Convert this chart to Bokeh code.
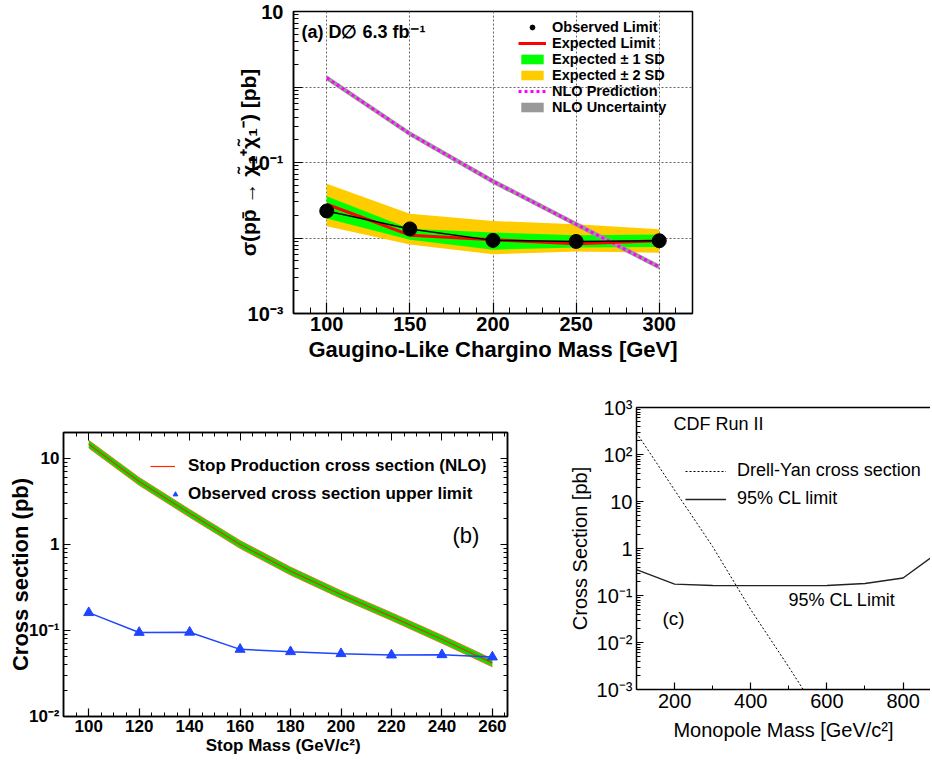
from bokeh.plotting import figure
from bokeh.models import (FixedTicker, LinearAxis, LogAxis,
                          Legend, LegendItem, Label, Range1d, Spacer,
                          CustomJSTickFormatter)
from bokeh.layouts import row, column
from bokeh.embed import file_html
from bokeh.resources import INLINE

FONT = "Liberation Sans"

# ---------------- Panel (a) data ----------------
mass_a = [100, 150, 200, 250, 300]
obs_a = [0.0228, 0.0132, 0.0093, 0.0090, 0.0092]
exp_a = [0.0280, 0.0109, 0.0095, 0.0084, 0.0092]
sd1_hi_a = [0.0356, 0.0133, 0.0118, 0.0109, 0.0111]
sd1_lo_a = [0.0181, 0.0095, 0.0070, 0.0075, 0.0076]
sd2_hi_a = [0.0525, 0.0210, 0.0168, 0.0152, 0.0131]
sd2_lo_a = [0.0143, 0.0082, 0.0061, 0.0066, 0.0064]
nlo_a = [1.32, 0.240, 0.0563, 0.0152, 0.00414]
nlo_hi_a = [1.43, 0.259, 0.0608, 0.0164, 0.00447]
nlo_lo_a = [1.22, 0.222, 0.0521, 0.0141, 0.00383]
xticks_a = [100, 150, 200, 250, 300]
yticks_a = [0.001, 0.01, 0.1, 1, 10]
ylabels_a = ["10⁻³", "", "10⁻¹", "", "10"]

# ---------------- Panel (b) data ----------------
mass_b = [100, 120, 140, 160, 180, 200, 220, 240, 260]
nlo_b = [14.6, 5.4, 2.3, 1.0, 0.49, 0.262, 0.145, 0.079, 0.042]
nlo_hi_b = [16.2, 6.0, 2.55, 1.11, 0.545, 0.29, 0.161, 0.088, 0.0466]
nlo_lo_b = [13.2, 4.87, 2.07, 0.90, 0.441, 0.236, 0.131, 0.071, 0.0378]
obs_b = [0.161, 0.0948, 0.0953, 0.0603, 0.0566, 0.0537, 0.0518, 0.0522, 0.0491]
xticks_b = [100, 120, 140, 160, 180, 200, 220, 240, 260]
yticks_b = [0.01, 0.1, 1, 10]
ylabels_b = ["10⁻²", "10⁻¹", "1", "10"]

# ---------------- Panel (c) data ----------------
mass_dy = [100, 200, 300, 400, 500, 550]
dy_c = [290, 17.5, 1.1, 0.05, 0.003, 0.0007]
mass_cl = [100, 200, 300, 400, 500, 600, 700, 800, 900]
cl_c = [0.356, 0.175, 0.163, 0.162, 0.162, 0.163, 0.18, 0.235, 0.92]
xticks_c = [200, 400, 600, 800]
yticks_c = [0.001, 0.01, 0.1, 1, 10, 100, 1000]
ylabels_c = ["10⁻³", "10⁻²", "10⁻¹", "1", "10", "10²", "10³"]


def log_minors(lo_exp, hi_exp):
    return [m * 10.0 ** k for k in range(lo_exp, hi_exp) for m in range(2, 10)]


def style_axis(ax, weight, tick_size, label_size, maj, mnr, lw=1.5):
    ax.major_tick_in = maj
    ax.major_tick_out = 0
    ax.minor_tick_in = mnr
    ax.minor_tick_out = 0
    ax.axis_line_color = "black"
    ax.axis_line_width = lw
    ax.major_tick_line_color = "black"
    ax.minor_tick_line_color = "black"
    ax.major_tick_line_width = 1.2
    ax.minor_tick_line_width = 1.0
    ax.major_label_text_font = FONT
    ax.major_label_text_font_style = weight
    ax.major_label_text_font_size = tick_size
    ax.major_label_text_color = "black"
    ax.axis_label_text_font = FONT
    ax.axis_label_text_font_style = weight
    ax.axis_label_text_font_size = label_size
    ax.axis_label_text_color = "black"


def blank_axis(cls, ticker, maj, mnr):
    ax = cls(ticker=ticker, formatter=CustomJSTickFormatter(code="return ''"))
    ax.major_label_standoff = 0
    ax.major_tick_in = maj
    ax.major_tick_out = 0
    ax.minor_tick_in = mnr
    ax.minor_tick_out = 0
    ax.axis_line_color = "black"
    ax.axis_line_width = 1.5
    return ax


def legend(items, loc, size, weight, gw, gh, standoff):
    return Legend(items=items, location=loc, label_text_font=FONT,
                  label_text_font_style=weight, label_text_font_size=size,
                  label_text_color="black",
                  glyph_width=gw, glyph_height=gh, label_height=gh,
                  spacing=0, padding=0, margin=0, label_standoff=standoff,
                  border_line_color=None, background_fill_alpha=0)


def note(p, text, x, y, size, weight="normal"):
    p.add_layout(Label(x=x, y=y, x_units="screen", y_units="screen",
                       text=text, text_font=FONT, text_font_size=size,
                       text_font_style=weight, text_color="black",
                       text_baseline="middle", text_align="left"))


# ======================= Panel (a) =======================
pa = figure(frame_width=399, frame_height=302, x_range=Range1d(80, 320),
            y_range=Range1d(1e-3, 10), y_axis_type="log",
            output_backend="svg", toolbar_location=None,
            min_border_left=63, min_border_right=10, min_border_top=11,
            min_border_bottom=57, outline_line_color="black",
            outline_line_width=1.5)
pa.xaxis.ticker = FixedTicker(ticks=xticks_a,
                              minor_ticks=[v for v in range(80, 321, 10)])
pa.yaxis.ticker = FixedTicker(ticks=yticks_a, minor_ticks=log_minors(-3, 1))
pa.yaxis.major_label_overrides = dict(zip(yticks_a, ylabels_a))
style_axis(pa.xaxis[0], "bold", "20px", "22px", 11, 6)
style_axis(pa.yaxis[0], "bold", "20px", "21px", 9, 5)
pa.xaxis.axis_label = "Gaugino-Like Chargino Mass [GeV]"
pa.yaxis.axis_label = "σ(pp̄ → χ̃₁⁺χ̃₁⁻) [pb]"
pa.xaxis.major_label_standoff = 3
pa.xaxis.axis_label_standoff = 3
pa.yaxis.major_label_standoff = 10
pa.yaxis.axis_label_standoff = -15
for g in (pa.xgrid[0], pa.ygrid[0]):
    g.grid_line_color = "#666666"
    g.grid_line_dash = "2 2"
    g.grid_line_width = 1

r_sd2 = pa.varea(x=mass_a, y1=sd2_lo_a, y2=sd2_hi_a, fill_color="#ffcc00")
r_sd1 = pa.varea(x=mass_a, y1=sd1_lo_a, y2=sd1_hi_a, fill_color="#00ff00")
r_unc = pa.varea(x=mass_a, y1=nlo_lo_a, y2=nlo_hi_a, fill_color="#999999")
r_nlo = pa.line(mass_a, nlo_a, line_color="#ff00ff", line_dash="3 3",
                line_width=3)
r_exp = pa.line(mass_a, exp_a, line_color="#ff0000", line_width=3)
pa.line(mass_a, obs_a, line_color="black", line_width=1.5)
r_obs = pa.scatter(mass_a, obs_a, size=14, color="black")

pa.add_layout(legend([
    LegendItem(label="Observed Limit", renderers=[r_obs]),
    LegendItem(label="Expected Limit", renderers=[r_exp]),
    LegendItem(label="Expected ± 1 SD", renderers=[r_sd1]),
    LegendItem(label="Expected ± 2 SD", renderers=[r_sd2]),
    LegendItem(label="NLO Prediction", renderers=[r_nlo]),
    LegendItem(label="NLO Uncertainty", renderers=[r_unc]),
], (225, 198), "14.5px", "bold", 28, 12, 6))
note(pa, "(a) D∅ 6.3 fb⁻¹", 8, 282, "18px", "bold")

# ======================= Panel (b) =======================
pb = figure(frame_width=444, frame_height=284, x_range=Range1d(90, 266),
            y_range=Range1d(0.01, 20), y_axis_type="log",
            output_backend="svg", toolbar_location=None,
            min_border_left=63, min_border_right=10, min_border_top=37,
            min_border_bottom=41, outline_line_color="black",
            outline_line_width=1.5)
xt_b = FixedTicker(ticks=xticks_b, minor_ticks=[v for v in range(90, 266, 5)])
yt_b = FixedTicker(ticks=yticks_b, minor_ticks=log_minors(-2, 2))
pb.xaxis.ticker = xt_b
pb.yaxis.ticker = yt_b
pb.yaxis.major_label_overrides = dict(zip(yticks_b, ylabels_b))
style_axis(pb.xaxis[0], "bold", "17px", "17px", 8, 4)
style_axis(pb.yaxis[0], "bold", "17px", "22px", 7, 4)
pb.xaxis.axis_label = "Stop Mass  (GeV/c²)"
pb.yaxis.axis_label = "Cross section (pb)"
pb.xaxis.major_label_standoff = 3
pb.xaxis.axis_label_standoff = 1
pb.yaxis.major_label_standoff = 4
pb.yaxis.axis_label_standoff = -7
pb.xgrid.grid_line_color = None
pb.ygrid.grid_line_color = None
pb.add_layout(blank_axis(LogAxis, yt_b, 7, 4), "right")
pb.add_layout(blank_axis(LinearAxis, xt_b, 8, 4), "above")

pb.varea(x=mass_b, y1=nlo_lo_b, y2=nlo_hi_b, fill_color="#00e400")
pb.line(mass_b, nlo_hi_b, line_color="#ff6a2a", line_width=1)
pb.line(mass_b, nlo_lo_b, line_color="#ff6a2a", line_width=1)
r_nlo_b = pb.line(mass_b, nlo_b, line_color="#ff2a00", line_width=1.2)
pb.line(mass_b, obs_b, line_color="#1f45ff", line_width=1.5)
r_obs_b = pb.scatter(mass_b, obs_b, marker="triangle", size=10,
                     color="#1f45ff")
pb.add_layout(legend([LegendItem(label="Stop Production cross section (NLO)",
                                 renderers=[r_nlo_b])],
                     (87, 240), "17px", "bold", 25, 20, 13))
pb.add_layout(legend([LegendItem(label="Observed cross section upper limit",
                                 renderers=[r_obs_b])],
                     (106, 212), "17px", "bold", 12, 20, 7))
note(pb, "(b)", 389, 181, "22px")

# ======================= Panel (c) =======================
pc = figure(frame_width=294, frame_height=282, x_range=Range1d(100, 872),
            y_range=Range1d(1e-3, 1e3), y_axis_type="log",
            output_backend="svg", toolbar_location=None,
            min_border_left=76, min_border_right=0, min_border_top=37,
            min_border_bottom=62, outline_line_color=None)
xt_c = FixedTicker(ticks=xticks_c, minor_ticks=[100, 300, 500, 700])
pc.xaxis.ticker = xt_c
pc.yaxis.ticker = FixedTicker(ticks=yticks_c, minor_ticks=log_minors(-3, 3))
pc.yaxis.major_label_overrides = dict(zip(yticks_c, ylabels_c))
style_axis(pc.xaxis[0], "normal", "20px", "20px", 7, 4)
style_axis(pc.yaxis[0], "normal", "20px", "20px", 7, 4)
pc.xaxis.axis_label = "Monopole Mass [GeV/c²]"
pc.yaxis.axis_label = "Cross Section [pb]"
pc.xaxis.major_label_standoff = 4
pc.xaxis.axis_label_standoff = 8
pc.yaxis.major_label_standoff = 4
pc.yaxis.axis_label_standoff = 3
pc.xgrid.grid_line_color = None
pc.ygrid.grid_line_color = None
pc.add_layout(blank_axis(LinearAxis, xt_c, 0, 0), "above")

r_dy = pc.line(mass_dy, dy_c, line_color="black", line_dash="2 2",
               line_width=1)
r_cl = pc.line(mass_cl, cl_c, line_color="#222222", line_width=1.4)
pc.add_layout(legend([LegendItem(label="Drell-Yan cross section",
                                 renderers=[r_dy])],
                     (49, 208), "18px", "normal", 41, 20, 11))
pc.add_layout(legend([LegendItem(label="95% CL limit", renderers=[r_cl])],
                     (49, 180), "18px", "normal", 41, 20, 11))
note(pc, "CDF Run II", 37, 266, "18px")
note(pc, "95% CL Limit", 152, 90, "18px")
note(pc, "(c)", 26, 71, "19px")

layout = column(
    row(Spacer(width=230, height=370), pa),
    row(column(Spacer(width=517, height=25), pb),
        Spacer(width=43, height=10),
        column(pc)),
)

open("out.html", "w").write(file_html(layout, INLINE))
